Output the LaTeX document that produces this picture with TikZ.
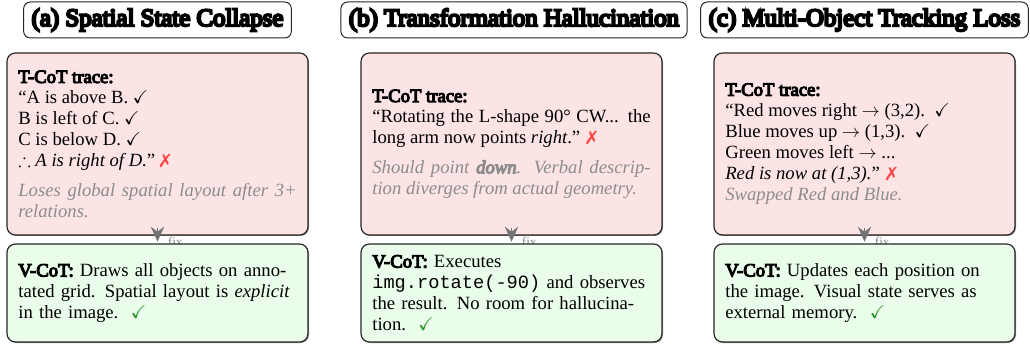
\documentclass[tikz,border=0pt]{standalone}
\usepackage{fontspec}
\setmainfont{Liberation Serif}[BoldFont={Liberation Serif}, BoldFeatures={FakeBold=6}, BoldItalicFont={Liberation Serif Italic}, BoldItalicFeatures={FakeBold=6}]
\newfontfamily\titlefont{Liberation Serif}[FakeBold=9]
\setmonofont{Liberation Mono}
\usepackage{amssymb}
\usepackage{pifont}
\usetikzlibrary{shadows,arrows.meta}
\pgfdeclarelayer{background}
\pgfsetlayers{background,main}
\definecolor{pinkfill}{HTML}{FDE4E4}
\definecolor{greenfill}{HTML}{EAFCEA}
\definecolor{noteclr}{HTML}{8C8C8C}
\definecolor{xclr}{HTML}{FF4545}
\definecolor{okclr}{HTML}{1E961E}
\definecolor{arrclr}{HTML}{747474}
\newcommand{\xmk}{{\color{xclr}\ding{55}}}
\newcommand{\okmk}{{\color{okclr}$\checkmark$}}
\newcommand{\note}[1]{{\color{noteclr}\itshape #1}}
\begin{document}
\begin{tikzpicture}[x=0.6pt,y=-0.6pt,
  titlebox/.style={draw=black!85, line width=0.6pt, rounded corners=4pt, fill=white,
    font=\fontsize{14.9}{18}\titlefont, inner xsep=4.8pt, minimum height=21.6pt},
  casebox/.style={draw=black!85, line width=0.7pt, rounded corners=5pt,
    drop shadow={shadow xshift=0.6pt, shadow yshift=-0.6pt, opacity=0.45, fill=black},
    minimum width=180.6pt, inner xsep=6.5pt, inner ysep=4pt, font=\fontsize{11.2}{12.6}\selectfont},
  tcot/.style={casebox, fill=pinkfill, minimum height=109.2pt, text width=167pt, align=justify},
  vcot/.style={casebox, fill=greenfill, minimum height=58.8pt, text width=167pt, align=left},
  fixarrow/.style={draw=arrclr, line width=1pt, -{Stealth[length=9pt,width=8pt,inset=3pt]}, shorten >=1pt},
  fixlbl/.style={text=noteclr, font=\footnotesize, inner sep=0pt}
]
\useasboundingbox (0,0) rectangle (1030,344);

% titles
\node[titlebox] (ta) at (157.5,20) {(a) Spatial State Collapse};
\node[titlebox] (tb) at (514,20) {(b) Transformation Hallucination};
\node[titlebox] (tc) at (864.5,20) {(c) Multi-Object Tracking Loss};

% T-CoT boxes
\node[tcot] (pa) at (157.5,144) {\textbf{T-CoT trace:}\\
``A is above B. $\checkmark$\\
B is left of C. $\checkmark$\\
C is below D. $\checkmark$\\
$\therefore$ \textit{A is right of D.}'' \xmk\\[5pt]
\note{Loses global spatial layout after 3+ relations.}};

\node[tcot] (pb) at (511.5,144) {\textbf{T-CoT trace:}\\
``Rotating the L-shape 90° CW... the long arm now points \textit{right}.'' \xmk\\[5pt]
\note{Should point \textbf{down}. Verbal description diverges from actual geometry.}};

\node[tcot] (pc) at (864.5,144) {\textbf{T-CoT trace:}\\
``Red moves right $\rightarrow$ (3,2).~~$\checkmark$\\
Blue moves up $\rightarrow$ (1,3).~~$\checkmark$\\
Green moves left $\rightarrow$ ...\\
\textit{Red is now at (1,3).}'' \xmk\\
\note{Swapped Red and Blue.}};

% V-CoT boxes
\node[vcot] (ga) at (157.5,293) {\parbox{164pt}{\textbf{V-CoT:} Draws all objects on annotated grid. Spatial layout is \textit{explicit} in the image.~~\okmk}};

\node[vcot] (gb) at (511.5,293) {\parbox{164pt}{\textbf{V-CoT:} Executes\\
\texttt{img.rotate(-90)} and observes the result. No room for hallucination.~~\okmk}};

\node[vcot] (gc) at (864.5,293) {\parbox{164pt}{\raggedright\textbf{V-CoT:} Updates each position on the image. Visual state serves as external memory.~~\okmk}};

% fix labels (behind)
\begin{pgfonlayer}{background}
\node[fixlbl, anchor=base west] (fa) at ([shift={(10,11)}]pa.south) {fix};
\node[fixlbl, anchor=base west] (fb) at ([shift={(10,11)}]pb.south) {fix};
\node[fixlbl, anchor=base west] (fc) at ([shift={(10,11)}]pc.south) {fix};
\end{pgfonlayer}

% fix arrows
\draw[fixarrow] ([shift={(0,-8)}]pa.south) -- (ga.north);
\draw[fixarrow] ([shift={(0,-8)}]pb.south) -- (gb.north);
\draw[fixarrow] ([shift={(0,-8)}]pc.south) -- (gc.north);
\end{tikzpicture}
\end{document}
